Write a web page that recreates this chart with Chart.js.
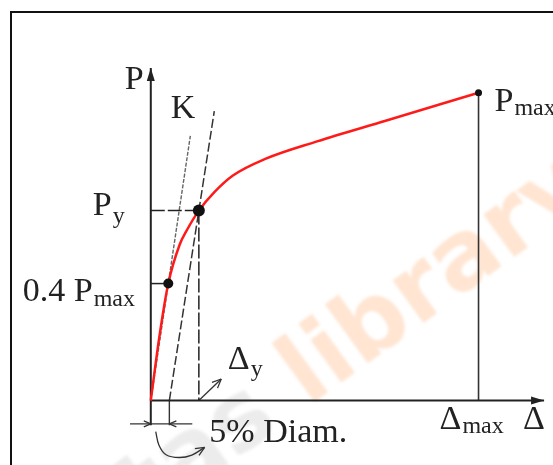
<!DOCTYPE html>
<html>
<head>
<meta charset="utf-8">
<script src="https://cdn.jsdelivr.net/npm/chart.js@4"></script>
<style>
  html, body { margin: 0; padding: 0; background: #fff; }
  canvas { display: block; }
</style>
</head>
<body>
<canvas id="pd" width="553" height="465"></canvas>
<script>
// Load-displacement curve (displacement in mm, load in % of Pmax)
const curveX = [0, 0.78, 1.6, 2.64, 3.31, 4.4, 5.82, 7.52, 10.48, 15.22, 21.5, 30];
const curveY = [0, 20.6, 38, 50.6, 55.4, 61.7, 67.7, 73.1, 78.5, 84.2, 90.9, 100];

// key points
const dMax = 30, pMax = 100;
const dY = 4.4, pY = 61.7;
const d04 = 1.6, p04 = 38;
const offset5 = 1.7;          // 5% diameter offset
const kTop = 86, offTop = 94; // where the two stiffness lines stop
const axisXMax = 36, axisYMax = 108;
const below = -8, dimY = -7.6;
const dimX = [-1.9, 3.8];
// curved arrow pointing to the "5% Diam." note
const hookX = [0.45, 0.75, 1.4, 2.6, 3.76, 4.93];
const hookY = [-10.1, -14.5, -17.6, -18.5, -17.7, -15.2];
const dyArrowX = [4.4, 6.45];
const dyArrowY = [0, 7];

const pts = (xs, ys) => xs.map((x, i) => ({ x: x, y: ys[i] }));
const kSlope = p04 / d04;

function line(data, color, width, dash, order) {
    return {
        data: data, showLine: true, borderColor: color, borderWidth: width,
        borderDash: dash || [], pointRadius: 0, fill: false, order: order || 5
    };
}

const datasets = [
    // points
    {
        data: [{ x: dY, y: pY }, { x: d04, y: p04 }, { x: dMax, y: pMax }],
        pointRadius: [6, 5, 3.5], backgroundColor: '#111', borderWidth: 0,
        showLine: false, order: 0
    },
    // red curve
    Object.assign(line(pts(curveX, curveY), '#ff1a1a', 2.5, null, 1), { cubicInterpolationMode: 'monotone' }),
    // axes
    line([{ x: 0, y: below }, { x: 0, y: axisYMax }], '#222', 2, null, 3),
    line([{ x: 0, y: 0 }, { x: axisXMax, y: 0 }], '#222', 2, null, 3),
    line([{ x: dMax, y: 0 }, { x: dMax, y: pMax }], '#333', 1.6, null, 3),
    line([{ x: offset5, y: 0 }, { x: offset5, y: below }], '#333', 1.4, null, 3),
    line([{ x: dimX[0], y: dimY }, { x: dimX[1], y: dimY }], '#333', 1.2, null, 3),
    // yield construction
    line([{ x: 0, y: pY }, { x: dY, y: pY }], '#222', 1.5, [14, 3], 4),
    line([{ x: dY, y: pY }, { x: dY, y: 0 }], '#222', 1.5, [14, 3], 4),
    line([{ x: 0, y: p04 }, { x: d04, y: p04 }], '#222', 1.5, null, 4),
    // secant stiffness K
    line([{ x: 0, y: 0 }, { x: kTop / kSlope, y: kTop }], '#666', 1.4, [4, 1.5], 4),
    // offset line through the yield point
    line([{ x: offset5, y: 0 }, { x: offset5 + (dY - offset5) * offTop / pY, y: offTop }], '#333', 1.5, [9, 3], 4),
    // small arrows
    line(pts(dyArrowX, dyArrowY), '#333', 1.3, null, 4),
    Object.assign(line(pts(hookX, hookY), '#333', 1.3, null, 4), { tension: 0.4 })
];

function arrowHead(ctx, x1, y1, x2, y2, len, wid, filled) {
    const a = Math.atan2(y2 - y1, x2 - x1);
    ctx.save();
    ctx.translate(x2, y2);
    ctx.rotate(a);
    ctx.beginPath();
    ctx.moveTo(0, 0);
    ctx.lineTo(-len, -wid);
    if (filled) ctx.lineTo(-len, wid); else ctx.moveTo(-len, wid);
    if (filled) { ctx.closePath(); ctx.fill(); }
    else { ctx.lineTo(0, 0); ctx.stroke(); }
    ctx.restore();
}

const decor = {
    id: 'decor',
    beforeDatasetsDraw(chart) {
        const ctx = chart.ctx;
        const sx = chart.scales.x, sy = chart.scales.y;
        const px = v => sx.getPixelForValue(v), py = v => sy.getPixelForValue(v);
        // frame
        ctx.save();
        ctx.strokeStyle = '#111';
        ctx.lineWidth = 2;
        ctx.beginPath();
        ctx.moveTo(11, chart.height);
        ctx.lineTo(11, 12);
        ctx.lineTo(chart.width, 12);
        ctx.stroke();
        // watermark
        ctx.translate(px(14.4), py(-2));
        ctx.rotate(-36 * Math.PI / 180);
        ctx.filter = 'blur(1.5px)';
        ctx.font = 'bold 96px "DejaVu Sans"';
        ctx.textBaseline = 'alphabetic';
        ctx.fillStyle = 'rgba(110,110,110,0.13)';
        ctx.textAlign = 'right';
        ctx.fillText('otas ', 0, 0);
        ctx.textAlign = 'left';
        ctx.fillStyle = 'rgba(255,160,95,0.28)';
        ctx.fillText('library', 0, 0);
        ctx.restore();
    },
    afterDatasetsDraw(chart) {
        const ctx = chart.ctx;
        const sx = chart.scales.x, sy = chart.scales.y;
        const px = v => sx.getPixelForValue(v), py = v => sy.getPixelForValue(v);
        ctx.save();
        ctx.fillStyle = '#222';
        ctx.strokeStyle = '#333';
        ctx.lineWidth = 1.3;
        // axis arrows
        arrowHead(ctx, px(0), py(0), px(0), py(axisYMax), 13, 4, true);
        arrowHead(ctx, px(0), py(0), px(axisXMax), py(0), 13, 4, true);
        // dimension arrows
        arrowHead(ctx, px(dimX[0]), py(dimY), px(0), py(dimY), 7, 3, false);
        arrowHead(ctx, px(dimX[1]), py(dimY), px(offset5), py(dimY), 7, 3, false);
        const n = hookX.length - 1;
        arrowHead(ctx, px(hookX[n - 1]), py(hookY[n - 1]), px(hookX[n]), py(hookY[n]), 9, 4, false);
        arrowHead(ctx, px(dyArrowX[0]), py(dyArrowY[0]), px(dyArrowX[1]), py(dyArrowY[1]), 9, 4, false);

        // labels
        const big = '34px "Liberation Serif"', small = '24px "Liberation Serif"';
        ctx.textAlign = 'left';
        ctx.textBaseline = 'alphabetic';
        function label(main, sub, x, y, subDrop) {
            ctx.font = big;
            ctx.fillText(main, x, y);
            if (sub) {
                const w = ctx.measureText(main).width;
                ctx.font = small;
                ctx.fillText(sub, x + w + 1, y + subDrop);
            }
        }
        label('P', null, px(0) - 26, py(axisYMax) + 21);
        label('K', null, px(0) + 20, py(axisYMax) + 50);
        label('P', 'y', px(0) - 58, py(pY) + 4, 8);
        label('0.4 P', 'max', px(0) - 128, py(p04) + 17, 5);
        label('P', 'max', px(dMax) + 16, py(pMax) + 18, 4);
        label('\u0394', 'y', px(dY) + 29, py(0) - 32, 7);
        label('\u0394', 'max', px(dMax) - 39, py(0) + 28, 4);
        label('\u0394', null, px(axisXMax) - 21, py(0) + 28);
        label('5% Diam.', null, px(offset5) + 40, py(0) + 41);
        ctx.restore();
    }
};

new Chart(document.getElementById('pd'), {
    type: 'scatter',
    data: { datasets: datasets },
    options: {
        responsive: false,
        animation: false,
        events: [],
        layout: { padding: 0 },
        scales: {
            x: { type: 'linear', display: false, min: -148 / 11.167, max: 405 / 11.167 },
            y: { type: 'linear', display: false, min: -60 / 3.16, max: 405 / 3.16 }
        },
        plugins: { legend: { display: false }, tooltip: { enabled: false } }
    },
    plugins: [decor]
});
</script>
</body>
</html>
